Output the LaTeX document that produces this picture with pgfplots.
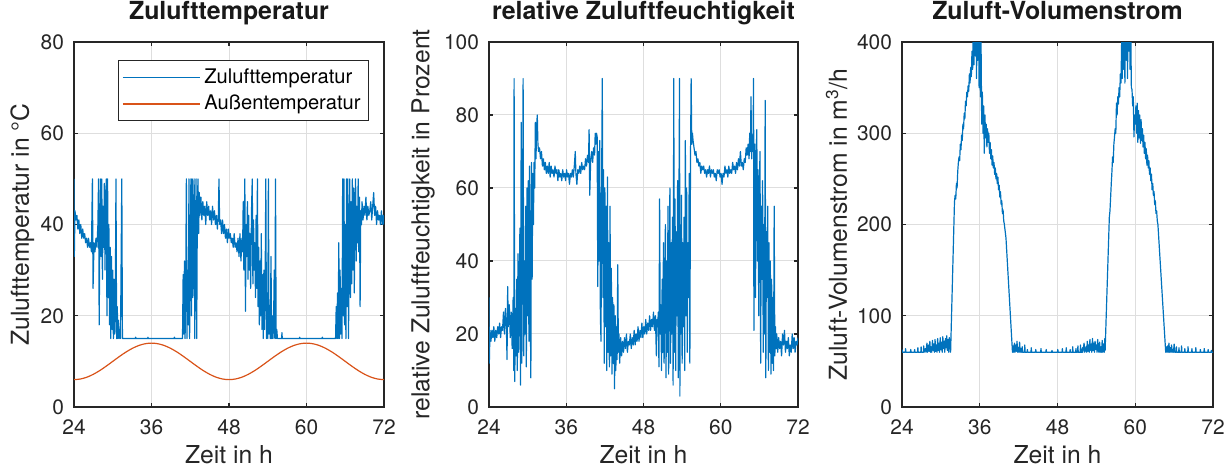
\documentclass[border=0pt]{standalone}
\usepackage{fontspec}
\setmainfont{TeX Gyre Heros}
\usepackage{pgfplots}
\pgfplotsset{compat=1.18}
\definecolor{mblue}{rgb}{0,0.447,0.741}
\definecolor{morange}{rgb}{0.850,0.325,0.098}
\definecolor{axgray}{rgb}{0.15,0.15,0.15}
\pgfplotsset{
 mstyle/.style={
  scale only axis, width=155bp, height=182.5bp, anchor=south west,
  xmin=24, xmax=72, xtick={24,36,48,60,72},
  grid=major, major grid style={black!13, line width=0.5bp},
  axis line style={axgray, line width=0.6bp},
  every tick/.style={axgray, line width=0.6bp},
  tick align=inside, tick pos=both, major tick length=2bp,
  /pgf/number format/assume math mode=true,
  every tick label/.append style={font=\fontsize{10.5}{12}\selectfont, text=axgray},
  xticklabel style={yshift=-3bp},
  yticklabel style={xshift=-1.5bp},
  label style={font=\fontsize{12.4}{14}\selectfont, text=axgray},
  title style={font=\bfseries\fontsize{12.5}{14}\selectfont, text=black!90, at={(axis description cs:0.5,1)}, anchor=base, yshift=5.5bp},
  xlabel style={at={(axis description cs:0.5,-0.1315)}, anchor=center},
  xlabel={Zeit in h},
  every axis plot/.append style={line width=0.6bp, line join=round},
 }
}
\begin{document}
\begin{tikzpicture}
\path[use as bounding box] (0,0) rectangle (615.5bp,235.5bp);
% ---------------- Panel 1
\begin{axis}[mstyle, at={(37bp,32bp)},
  ymin=0, ymax=80, ytick={0,20,40,60,80},
  title={Zulufttemperatur},
  ylabel={Zulufttemperatur in °C},
  ylabel style={at={(axis description cs:-0.167,0.5)}, anchor=center},
  legend style={at={(axis description cs:0.9516,0.9507)}, anchor=north east, draw=axgray, line width=0.5bp, fill=white,
    font=\fontsize{10.1}{12}\selectfont, inner xsep=2bp, inner ysep=2bp, row sep=0.5bp, nodes={inner sep=2bp}},
  legend cell align=left,
  legend image code/.code={\draw[#1] (0bp,0bp) -- (38.5bp,0bp);},
]
\addplot[mblue] coordinates {
(24.00,50) (24.05,33) (24.15,43) (24.3,41) (24.45,42) (24.6,39) (24.75,41) (24.9,38) (25.05,40) (25.2,37)
(25.35,39) (25.5,37) (25.65,38) (25.8,36) (25.95,37) (26.1,35) (26.25,37) (26.4,35) (26.55,36) (26.7,34)
(26.85,50) (26.95,26) (27.1,36) (27.25,34) (27.4,37) (27.55,35) (27.7,40) (27.8,50) (27.9,18) (28.0,38)
(28.1,50) (28.2,33) (28.3,50) (28.4,28) (28.5,44) (28.6,35) (28.7,49) (28.8,30) (28.9,45) (29.0,50)
(29.1,20) (29.2,50) (29.3,24) (29.4,40) (29.5,18) (29.6,35) (29.7,15) (29.8,33) (29.9,17) (30.0,30)
(30.1,15) (30.2,28) (30.3,16) (30.4,24) (30.5,50) (30.6,15) (30.7,22) (30.8,15) (30.9,19) (31.0,15)
(31.1,17) (31.2,15) (31.4,50) (31.5,15) (31.7,15) (33.5,15) (33.55,15.3) (33.6,15) (35.4,15) (35.45,15.3)
(35.5,15) (39.5,15) (39.55,15.3) (39.6,15) (40.8,15) (40.9,29) (41.0,16) (41.1,32) (41.2,15) (41.3,27)
(41.4,50) (41.5,15) (41.6,30) (41.7,18) (41.8,50) (41.9,15) (42.0,33) (42.1,50) (42.2,20) (42.3,50)
(42.4,24) (42.5,42) (42.6,50) (42.7,15) (42.8,36) (42.9,50) (43.0,15) (43.1,44) (43.2,50) (43.3,38)
(43.4,47) (43.5,42) (43.65,46) (43.8,41) (43.95,45) (44.1,42) (44.25,44) (44.4,40) (44.55,45) (44.7,42)
(44.85,44) (45.0,41) (45.15,43) (45.3,40) (45.45,44) (45.6,41) (45.75,43) (45.9,40) (46.05,42) (46.2,39)
(46.35,42) (46.45,50) (46.55,40) (46.7,41) (46.85,38) (47.0,41) (47.15,38) (47.3,40) (47.45,37) (47.6,39)
(47.75,36) (47.9,39) (48.05,37) (48.2,38) (48.35,36) (48.5,37) (48.65,35) (48.8,38) (48.95,35) (49.1,36)
(49.25,34) (49.4,37) (49.55,33) (49.7,38) (49.85,32) (50.0,37) (50.1,34) (50.2,45) (50.3,30) (50.45,50)
(50.55,21) (50.65,40) (50.75,33) (50.85,45) (50.95,28) (51.05,42) (51.15,30) (51.25,38) (51.35,26) (51.5,44)
(51.6,50) (51.7,27) (51.8,41) (51.9,30) (52.0,36) (52.1,24) (52.2,42) (52.3,26) (52.4,50) (52.5,22)
(52.6,35) (52.7,18) (52.8,32) (52.9,20) (53.0,38) (53.1,17) (53.2,29) (53.3,15) (53.4,30) (53.5,17)
(53.6,28) (53.7,50) (53.8,15) (53.9,25) (54.0,15) (54.1,50) (54.2,16) (54.3,22) (54.4,15) (54.5,33)
(54.6,15) (54.7,20) (54.8,15) (54.9,18) (55.0,30) (55.1,15) (55.2,50) (55.3,15) (55.4,17) (55.5,15)
(56.15,15) (56.2,16.3) (56.25,15) (58.9,15) (58.95,15.3) (59.0,15) (62.4,15) (62.45,15.3) (62.5,15) (64.5,15)
(64.6,22) (64.7,15) (64.8,25) (64.9,15) (65.0,36) (65.1,15) (65.2,30) (65.3,16) (65.4,26) (65.5,15)
(65.6,50) (65.7,20) (65.8,50) (65.9,18) (66.0,40) (66.1,15) (66.2,50) (66.3,22) (66.4,50) (66.5,15)
(66.6,30) (66.7,50) (66.8,24) (66.9,45) (67.0,27) (67.1,50) (67.2,30) (67.3,48) (67.4,25) (67.5,42)
(67.6,50) (67.7,32) (67.8,44) (67.9,36) (68.0,50) (68.1,34) (68.2,46) (68.3,22) (68.4,43) (68.5,40)
(68.6,45) (68.75,41) (68.9,44) (69.05,42) (69.2,46) (69.35,41) (69.5,44) (69.65,42) (69.8,43) (69.95,45)
(70.1,41) (70.25,44) (70.4,47) (70.55,42) (70.7,44) (70.85,40) (71.0,43) (71.15,41) (71.3,42) (71.45,40)
(71.6,43) (71.75,40) (71.9,42) (72.0,40)
};
\addlegendentry{Zulufttemperatur}
\addplot[morange, smooth] coordinates {
(24,6) (25,6.136) (26,6.536) (27,7.172) (28,8) (29,8.965) (30,10) (31,11.035) (32,12) (33,12.828)
(34,13.464) (35,13.864) (36,14) (37,13.864) (38,13.464) (39,12.828) (40,12) (41,11.035) (42,10) (43,8.965)
(44,8) (45,7.172) (46,6.536) (47,6.136) (48,6) (49,6.136) (50,6.536) (51,7.172) (52,8) (53,8.965)
(54,10) (55,11.035) (56,12) (57,12.828) (58,13.464) (59,13.864) (60,14) (61,13.864) (62,13.464) (63,12.828)
(64,12) (65,11.035) (66,10) (67,8.965) (68,8) (69,7.172) (70,6.536) (71,6.136) (72,6)
};
\addlegendentry{Außentemperatur}
\end{axis}
% ---------------- Panel 2
\begin{axis}[mstyle, at={(244.5bp,32bp)}, width=154.5bp,
  ymin=0, ymax=100, ytick={0,20,40,60,80,100},
  title={relative Zuluftfeuchtigkeit},
  ylabel={relative Zuluftfeuchtigkeit in Prozent},
  ylabel style={at={(axis description cs:-0.2136,0.5)}, anchor=center},
]
\addplot[mblue] coordinates {
(24.00,30) (24.05,12) (24.15,21) (24.3,18) (24.45,21) (24.6,19) (24.75,22) (24.9,18) (25.05,21) (25.2,19)
(25.35,22) (25.5,20) (25.65,23) (25.8,19) (25.95,22) (26.1,21) (26.25,26) (26.4,20) (26.55,27) (26.7,22)
(26.8,13) (26.9,33) (27.0,22) (27.15,28) (27.3,19) (27.45,26) (27.6,16) (27.75,30) (27.85,10) (27.9,90)
(28.0,7) (28.1,27) (28.2,14) (28.3,35) (28.4,10) (28.5,42) (28.6,15) (28.7,30) (28.8,49) (28.9,6)
(29.0,78) (29.1,12) (29.2,45) (29.3,90) (29.4,14) (29.5,40) (29.6,20) (29.7,55) (29.8,11) (29.9,60)
(30.0,25) (30.1,62) (30.2,18) (30.3,66) (30.4,30) (30.5,8) (30.6,67) (30.7,35) (30.8,64) (30.9,50)
(31.0,67) (31.1,60) (31.2,78) (31.3,68) (31.4,77) (31.5,80) (31.6,72) (31.7,70) (31.85,71) (32.0,68)
(32.15,70) (32.3,66) (32.45,68) (32.6,65) (32.75,67) (32.9,64) (33.05,66) (33.2,64) (33.35,67) (33.5,63)
(33.65,66) (33.8,64) (33.95,65) (34.1,63) (34.25,66) (34.4,64) (34.55,65) (34.7,62) (34.85,65) (35.0,63)
(35.15,64) (35.3,62) (35.45,65) (35.6,63) (35.75,64) (35.9,62) (36.05,65) (36.2,63) (36.35,64) (36.5,61)
(36.65,64) (36.8,63) (36.95,65) (37.1,63) (37.25,66) (37.4,70) (37.5,64) (37.65,61) (37.8,65) (37.95,64)
(38.1,66) (38.25,64) (38.4,67) (38.55,65) (38.7,66) (38.85,65) (39.0,68) (39.15,66) (39.3,69) (39.45,67)
(39.55,76) (39.65,58) (39.8,68) (39.95,70) (40.1,67) (40.25,71) (40.4,69) (40.5,75) (40.6,72) (40.7,75)
(40.8,74) (40.9,33) (41.0,70) (41.1,40) (41.2,73) (41.3,25) (41.4,18) (41.5,63) (41.6,90) (41.7,30)
(41.8,65) (41.9,12) (42.0,60) (42.1,22) (42.2,55) (42.3,10) (42.4,63) (42.5,15) (42.6,45) (42.7,11)
(42.8,55) (42.9,14) (43.0,38) (43.1,9) (43.2,30) (43.3,12) (43.4,28) (43.5,5) (43.6,25) (43.7,10)
(43.8,22) (43.9,13) (44.0,39) (44.1,15) (44.2,20) (44.3,12) (44.45,19) (44.6,14) (44.75,18) (44.9,15)
(45.05,19) (45.2,16) (45.35,20) (45.5,15) (45.65,18) (45.8,17) (45.95,20) (46.1,16) (46.25,19) (46.4,17)
(46.55,21) (46.7,17) (46.85,20) (47.0,18) (47.15,22) (47.3,18) (47.45,21) (47.6,19) (47.75,23) (47.9,19)
(48.05,22) (48.2,20) (48.35,24) (48.5,20) (48.65,23) (48.8,21) (48.95,25) (49.1,21) (49.25,24) (49.4,22)
(49.55,26) (49.7,21) (49.85,25) (50.0,14) (50.1,24) (50.2,22) (50.3,26) (50.4,11) (50.5,57) (50.6,20)
(50.7,28) (50.8,10) (50.9,35) (51.0,15) (51.1,45) (51.2,12) (51.3,30) (51.4,50) (51.5,8) (51.6,40)
(51.7,15) (51.8,55) (51.9,9) (52.0,35) (52.1,60) (52.2,12) (52.3,45) (52.4,20) (52.5,52) (52.6,6)
(52.7,90) (52.8,15) (52.9,57) (53.0,10) (53.1,48) (53.2,25) (53.3,62) (53.4,8) (53.5,55) (53.6,90)
(53.65,3) (53.7,40) (53.8,20) (53.9,58) (54.0,12) (54.1,45) (54.2,22) (54.3,52) (54.4,10) (54.5,73)
(54.6,25) (54.7,60) (54.8,15) (54.9,45) (55.0,30) (55.1,64) (55.2,12) (55.3,68) (55.4,90) (55.5,72)
(55.6,75) (55.7,73) (55.85,71) (56.0,69) (56.15,70) (56.3,67) (56.45,68) (56.6,66) (56.75,67) (56.9,64)
(57.05,66) (57.2,65) (57.35,66) (57.5,64) (57.65,65) (57.8,63) (57.95,65) (58.1,64) (58.25,66) (58.4,63)
(58.55,65) (58.7,64) (58.85,65) (59.0,63) (59.15,64) (59.3,62) (59.45,65) (59.6,64) (59.75,65) (59.9,63)
(60.05,64) (60.2,61) (60.35,64) (60.5,63) (60.65,66) (60.8,64) (60.95,65) (61.1,63) (61.25,66) (61.4,64)
(61.55,65) (61.7,64) (61.85,67) (62.0,65) (62.15,66) (62.3,64) (62.45,67) (62.6,65) (62.75,68) (62.9,66)
(63.05,70) (63.2,66) (63.35,67) (63.5,65) (63.65,68) (63.8,67) (63.95,71) (64.1,69) (64.25,72) (64.4,68)
(64.5,75) (64.6,70) (64.7,85) (64.8,68) (64.9,74) (65.0,70) (65.1,90) (65.15,21) (65.2,60) (65.3,72)
(65.4,30) (65.5,68) (65.6,76) (65.7,40) (65.8,65) (65.9,25) (66.0,60) (66.1,70) (66.2,12) (66.3,55)
(66.4,35) (66.5,62) (66.6,15) (66.7,50) (66.8,20) (66.9,84) (67.0,8) (67.1,48) (67.2,30) (67.3,55)
(67.4,10) (67.5,45) (67.6,15) (67.7,40) (67.8,9) (67.9,35) (68.0,12) (68.1,30) (68.2,10) (68.3,55)
(68.4,14) (68.5,22) (68.6,16) (68.7,20) (68.85,15) (69.0,19) (69.15,16) (69.3,18) (69.45,14) (69.6,20)
(69.75,17) (69.9,21) (70.05,15) (70.2,18) (70.35,16) (70.5,19) (70.65,14) (70.8,17) (70.95,15) (71.1,20)
(71.25,16) (71.4,19) (71.55,15) (71.7,18) (71.85,17) (72.0,19)
};
\end{axis}
% ---------------- Panel 3
\begin{axis}[mstyle, at={(451bp,32bp)}, width=155.5bp,
  ymin=0, ymax=400, ytick={0,100,200,300,400},
  title={Zuluft-Volumenstrom},
  ylabel={Zuluft-Volumenstrom in m\textsuperscript{3}/h},
  ylabel style={at={(axis description cs:-0.21,0.5)}, anchor=center},
]
\addplot[mblue] coordinates {
(24.0,63) (24.1,60) (24.5,60) (24.55,64) (24.6,60) (25.3,60) (25.35,63) (25.4,60) (25.9,60) (25.95,63)
(26.0,60) (26.4,60) (26.45,65) (26.5,60) (26.9,60) (26.95,66) (27.0,60) (27.3,60) (27.35,67) (27.4,60)
(27.6,64) (27.7,60) (27.85,70) (27.95,60) (28.1,68) (28.2,61) (28.3,72) (28.4,60) (28.5,66) (28.6,60)
(28.7,73) (28.8,62) (28.9,69) (29.0,60) (29.1,74) (29.2,61) (29.3,68) (29.4,60) (29.5,75) (29.6,62)
(29.7,70) (29.8,60) (29.9,76) (30.0,63) (30.1,71) (30.2,60) (30.3,77) (30.4,64) (30.5,72) (30.6,60)
(30.7,75) (30.8,65) (30.9,78) (31.0,62) (31.1,74) (31.2,60) (31.3,76) (31.5,60) (32.1,225) (32.2,232)
(32.3,228) (32.4,245) (32.5,240) (32.6,258) (32.7,268) (32.8,274) (32.9,270) (33.0,288) (33.1,282) (33.2,298)
(33.3,292) (33.4,310) (33.5,305) (33.6,322) (33.7,316) (33.8,335) (33.9,330) (34.0,345) (34.1,340) (34.2,352)
(34.3,346) (34.4,365) (34.5,355) (34.6,372) (34.7,362) (34.8,390) (34.9,370) (35.0,420) (35.1,375) (35.2,440)
(35.3,385) (35.4,450) (35.5,360) (35.6,430) (35.7,380) (35.8,445) (35.9,350) (36.0,420) (36.1,340) (36.2,400)
(36.3,310) (36.4,345) (36.5,300) (36.6,330) (36.7,278) (36.8,320) (36.9,295) (37.0,310) (37.1,285) (37.2,305)
(37.3,290) (37.4,300) (37.5,278) (37.6,290) (37.7,272) (37.8,282) (37.9,265) (38.0,275) (38.1,262) (38.2,268)
(38.3,255) (38.4,262) (38.5,250) (38.6,256) (38.7,245) (38.8,252) (38.9,238) (39.0,243) (39.1,230) (39.2,236)
(39.3,222) (39.4,226) (39.5,212) (39.6,216) (39.7,204) (39.8,200) (40.05,185) (41.05,60) (41.15,67) (41.25,60)
(41.35,70) (41.45,60) (41.55,68) (41.65,61) (41.75,72) (41.85,60) (41.95,65) (42.05,60) (42.15,71) (42.25,60)
(42.35,64) (42.45,60) (42.55,66) (42.6,60) (42.9,60) (42.95,68) (43.0,60) (43.3,60) (43.35,63) (43.4,60)
(43.9,60) (43.95,65) (44.0,60) (44.6,60) (44.65,63) (44.7,60) (45.4,60) (45.45,64) (45.5,60) (46.2,60)
(46.25,63) (46.3,60) (47.1,60) (47.15,62) (47.2,60) (48.0,60) (48.05,63) (48.1,60) (48.7,60) (48.75,64)
(48.8,60) (49.3,60) (49.35,65) (49.4,60) (49.9,60) (49.95,63) (50.0,60) (50.3,60) (50.35,66) (50.4,60)
(50.8,60) (50.85,64) (50.9,60) (51.1,60) (51.15,67) (51.2,60) (51.5,60) (51.55,68) (51.6,60) (51.8,60)
(51.85,65) (51.9,60) (52.1,70) (52.2,60) (52.4,66) (52.5,60) (52.6,72) (52.7,61) (52.8,68) (52.9,60)
(53.0,74) (53.1,62) (53.2,69) (53.3,60) (53.4,75) (53.5,62) (53.6,70) (53.7,60) (53.8,72) (53.9,63)
(54.0,68) (54.1,60) (54.2,74) (54.3,62) (54.4,60) (54.5,71) (54.6,60) (54.7,66) (54.8,60) (54.9,73)
(55.0,60) (55.1,69) (55.2,60) (55.3,75) (55.35,62) (56.0,208) (56.1,215) (56.2,230) (56.3,245) (56.4,258)
(56.5,274) (56.6,268) (56.7,288) (56.8,296) (56.9,305) (57.0,300) (57.1,333) (57.2,320) (57.3,340) (57.4,332)
(57.5,350) (57.6,340) (57.7,365) (57.8,355) (57.9,400) (58.0,360) (58.1,430) (58.2,370) (58.3,450) (58.4,355)
(58.5,440) (58.6,380) (58.7,460) (58.8,360) (58.9,430) (59.0,390) (59.1,450) (59.2,370) (59.3,420) (59.4,350)
(59.5,348) (59.6,330) (59.7,340) (59.8,296) (59.9,320) (60.0,310) (60.1,330) (60.2,300) (60.3,333) (60.4,290)
(60.5,325) (60.6,295) (60.7,320) (60.8,289) (60.9,315) (61.0,292) (61.1,305) (61.2,285) (61.3,298) (61.4,278)
(61.5,290) (61.6,272) (61.7,283) (61.8,265) (61.9,276) (62.0,262) (62.1,270) (62.2,255) (62.3,262) (62.4,248)
(62.5,255) (62.6,238) (62.7,245) (62.8,232) (62.9,236) (63.0,222) (63.1,226) (63.2,212) (63.3,215) (63.4,204)
(63.5,200) (64.7,60) (64.8,66) (64.9,60) (65.0,67) (65.1,60) (65.2,70) (65.3,60) (65.4,65) (65.5,60)
(65.6,68) (65.7,60) (65.8,63) (65.9,60) (66.0,69) (66.1,60) (66.3,60) (66.35,66) (66.4,60) (66.7,60)
(66.75,65) (66.8,60) (67.1,60) (67.15,67) (67.2,60) (67.6,60) (67.65,64) (67.7,60) (68.1,60) (68.15,66)
(68.2,60) (68.7,60) (68.75,64) (68.8,60) (69.3,60) (69.35,65) (69.4,60) (70.0,60) (70.05,63) (70.1,60)
(70.6,60) (70.65,64) (70.7,60) (71.2,60) (71.25,63) (71.3,60) (71.7,60) (71.75,62) (71.8,60) (72.0,60)
};
\end{axis}
\end{tikzpicture}
\end{document}
